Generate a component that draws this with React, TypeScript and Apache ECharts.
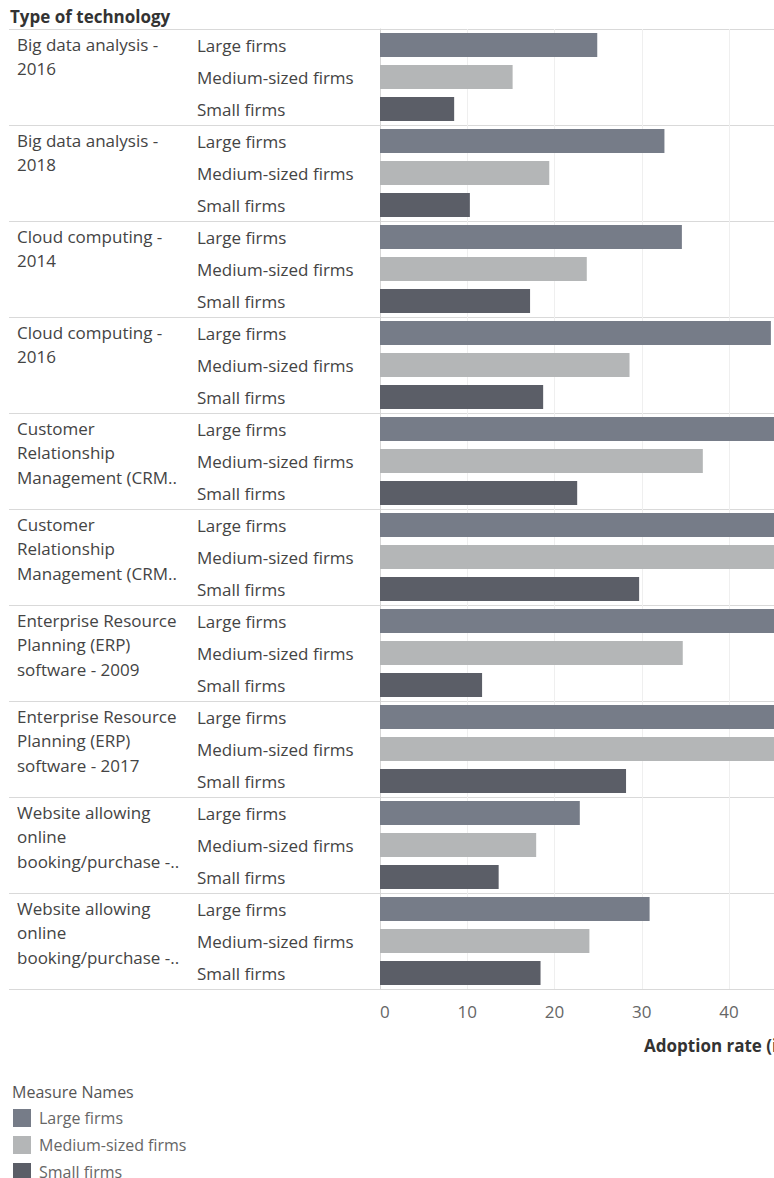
import React, { useEffect, useRef } from "react";
import * as echarts from "echarts";

const technologies = [
  "Big data analysis -\n2016",
  "Big data analysis -\n2018",
  "Cloud computing -\n2014",
  "Cloud computing -\n2016",
  "Customer\nRelationship\nManagement (CRM..",
  "Customer\nRelationship\nManagement (CRM..",
  "Enterprise Resource\nPlanning (ERP)\nsoftware - 2009",
  "Enterprise Resource\nPlanning (ERP)\nsoftware - 2017",
  "Website allowing\nonline\nbooking/purchase -..",
  "Website allowing\nonline\nbooking/purchase -..",
];
const measures = ["Large firms", "Medium-sized firms", "Small firms"];
const largeFirms = [24.9, 32.6, 34.6, 44.8, 61, 63, 70, 77, 22.9, 30.9];
const mediumFirms = [15.2, 19.4, 23.7, 28.6, 37.0, 47, 34.7, 53, 17.9, 24.0];
const smallFirms = [8.5, 10.3, 17.2, 18.7, 22.6, 29.7, 11.7, 28.2, 13.6, 18.4];
const xTicks = { min: 0, max: 80, interval: 10 };

const colors = ["#767c88", "#b4b6b7", "#5b5e67"];
const FONT = "Open Sans";

export default function App() {
  const ref = useRef<HTMLDivElement>(null);
  useEffect(() => {
    if (!ref.current) return;
    const chart = echarts.init(ref.current, undefined, { renderer: "svg" });
    const rows: string[] = [];
    technologies.forEach(() => measures.forEach((m) => rows.push(m)));
    const values = [largeFirms, mediumFirms, smallFirms];
    const groupFormatter = (v: string) => {
      const lines = v.split("\n");
      while (lines.length < 4) lines.push("\u00a0");
      return ["{p|\u00a0}", ...lines.map((l) => `{t|${l}}`)].join("\n");
    };
    chart.setOption({
      animation: false,
      textStyle: { fontFamily: FONT },
      title: [
        {
          text: "Type of technology",
          left: 10,
          top: 8,
          padding: 0,
          textStyle: { fontFamily: FONT, fontSize: 17, fontWeight: "bold", color: "#333" },
        },
        {
          text: "Measure Names",
          left: 12,
          top: 1084,
          padding: 0,
          textStyle: { fontFamily: FONT, fontSize: 16, fontWeight: "normal", color: "#555" },
        },
      ],
      legend: {
        data: measures,
        orient: "vertical",
        left: 13,
        top: 1109,
        padding: 0,
        itemWidth: 18,
        itemHeight: 18,
        itemGap: 9,
        icon: "rect",
        textStyle: { fontFamily: FONT, fontSize: 16, color: "#666", padding: [0, 0, 0, 3] },
      },
      grid: { left: 380, top: 29, width: 698, height: 960, containLabel: false },
      xAxis: {
        type: "value",
        min: xTicks.min,
        max: xTicks.max,
        interval: xTicks.interval,
        axisLine: { show: false },
        axisTick: { show: false },
        axisLabel: { fontFamily: FONT, fontSize: 17, color: "#666", margin: 14, alignMinLabel: "left" },
        splitLine: { show: true, lineStyle: { color: "#efefef", width: 1 } },
        name: "Adoption rate (in %)",
        nameLocation: "middle",
        nameGap: 48,
        nameTextStyle: { fontFamily: FONT, fontSize: 17, fontWeight: "bold", color: "#333" },
      },
      yAxis: [
        {
          type: "category",
          position: "left",
          inverse: true,
          data: technologies,
          axisLine: { show: true, lineStyle: { color: "#d6d6d6" } },
          axisTick: { show: true, length: 371, interval: 0, lineStyle: { color: "#d9d9d9" } },
          splitLine: { show: true, interval: 0, lineStyle: { color: "#d9d9d9" } },
          axisLabel: {
            interval: 0,
            margin: 363,
            align: "left",
            verticalAlign: "middle",
            formatter: groupFormatter,
            rich: {
              p: { fontSize: 4, lineHeight: 8, height: 8, fontFamily: FONT },
              t: { fontSize: 17, lineHeight: 24.5, fontFamily: FONT, color: "#444" },
            },
          },
        },
        {
          type: "category",
          position: "left",
          inverse: true,
          data: rows,
          axisLine: { show: false },
          axisTick: { show: false },
          splitLine: { show: false },
          axisLabel: {
            interval: 0,
            margin: 183,
            align: "left",
            fontFamily: FONT,
            fontSize: 17,
            color: "#444",
          },
        },
      ],
      series: measures.map((m, i) => ({
        name: m,
        type: "bar",
        yAxisIndex: 0,
        data: values[i],
        barWidth: 24,
        barGap: "33.3%",
        itemStyle: { color: colors[i] },
      })),
    });
    return () => chart.dispose();
  }, []);
  return (
    <div style={{ position: "fixed", left: 0, top: 0, width: 774, height: 1178, overflow: "hidden", background: "#fff" }}>
      <div ref={ref} style={{ width: 1100, height: 1260 }} />
    </div>
  );
}
